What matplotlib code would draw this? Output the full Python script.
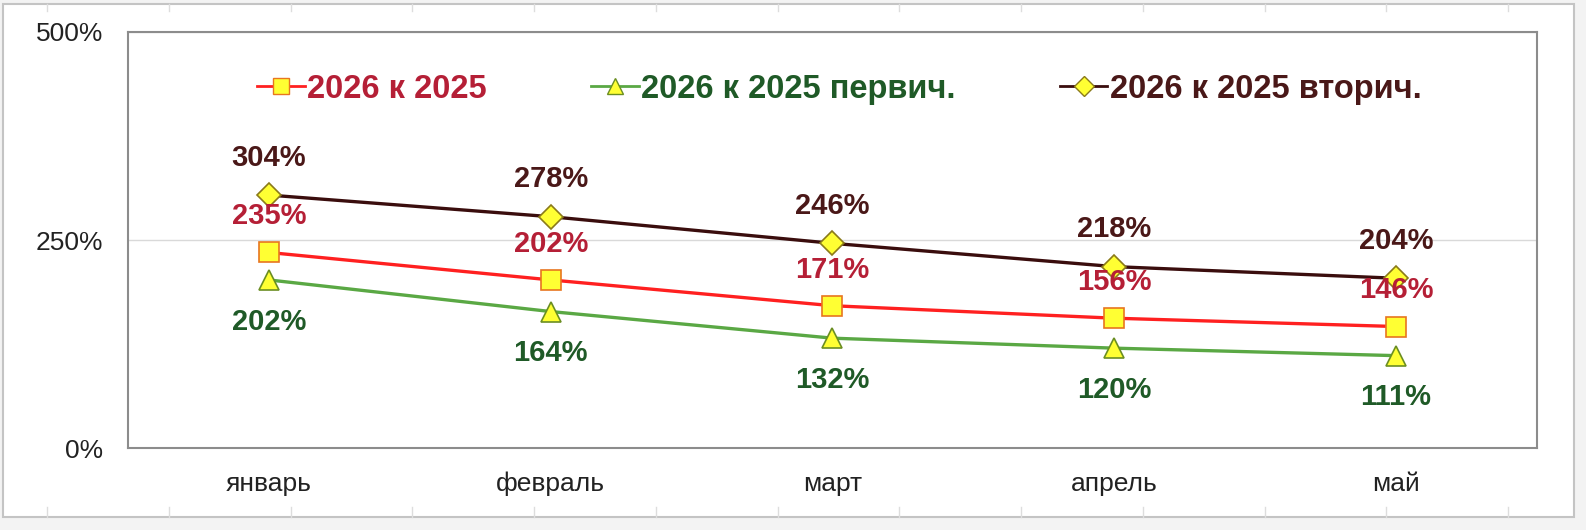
import matplotlib
matplotlib.use("Agg")
import matplotlib.pyplot as plt
from matplotlib.lines import Line2D
from matplotlib.patches import Rectangle
import numpy as np

months = ["январь", "февраль", "март", "апрель", "май"]
total = [235, 202, 171, 156, 146]
primary = [202, 164, 132, 120, 111]
secondary = [304, 278, 246, 218, 204]
names = ["2026 к 2025", "2026 к 2025 первич.", "2026 к 2025 вторич."]

plt.rcParams["font.family"] = ["Liberation Sans", "DejaVu Sans"]

W, H = 1586, 530
fig = plt.figure(figsize=(W / 100, H / 100), dpi=100, facecolor="#f3f3f3")

# white sheet with thin frame (screenshot look)
fig.add_artist(Rectangle((3 / W, 1 - 517 / H), 1571 / W, 513 / H, transform=fig.transFigure,
                         facecolor="white", edgecolor="#c4c4c4", lw=1.5, zorder=-2))
for xp in 47 + 121.75 * np.arange(13):
    fig.add_artist(Line2D([xp / W] * 2, [1 - 4 / H, 1 - 11 / H], color="#dddddd", lw=1, zorder=-1))
    fig.add_artist(Line2D([xp / W] * 2, [1 - 517 / H, 1 - 507 / H], color="#dddddd", lw=1, zorder=-1))

ax = fig.add_axes([128 / W, 1 - 448 / H, 1409 / W, 416 / H])
ax.set_facecolor("white")
x = np.arange(len(months))

# data, line colour, marker, marker edge, text colour, marker size, label offset (pt)
series = [
    (total, "#ff2020", "s", "#e8761f", "#b51f36", 14, 26),
    (primary, "#5aa844", "^", "#6b8e23", "#1f5a27", 14, -30),
    (secondary, "#3a0d0d", "D", "#8a7a1a", "#4a1818", 12.5, 27),
]
handles = []
for vals, lc, mk, me, tc, ms, dy in series:
    ax.plot(x, vals, color=lc, lw=2.4, marker=mk, ms=ms, mfc="#ffff33", mec=me, mew=1.2, zorder=3)
    for xi, v in zip(x, vals):
        ax.annotate(f"{v}%", (xi, v), xytext=(0, dy), textcoords="offset points",
                    ha="center", va="center", fontsize=21, fontweight="bold", color=tc, zorder=4)
    handles.append(Line2D([0], [0], color=lc, lw=2, marker=mk, ms=ms * 0.8, mfc="#ffff33", mec=me, mew=1))

leg = ax.legend(handles, names, loc="center", bbox_to_anchor=(0.505, 0.862), ncol=3, frameon=False,
                handlelength=1.45, handletextpad=0.08, columnspacing=3.2,
                prop={"weight": "bold", "size": 23.5})
for t, s in zip(leg.get_texts(), series):
    t.set_color(s[4])

ax.set_xlim(-0.5, 4.5)
ax.set_ylim(0, 500)
ax.set_yticks([0, 250, 500])
ax.set_yticklabels(["0%", "250%", "500%"])
ax.set_xticks(x)
ax.set_xticklabels(months)
ax.tick_params(length=0, labelsize=19, colors="#222222")
ax.tick_params(axis="y", pad=18)
ax.tick_params(axis="x", pad=17)
ax.yaxis.grid(True, color="#d9d9d9", lw=1)
ax.set_axisbelow(True)
for sp in ax.spines.values():
    sp.set_color("#8c8c8c")
    sp.set_linewidth(1.5)

fig.savefig("out.png", dpi=100, facecolor=fig.get_facecolor())
